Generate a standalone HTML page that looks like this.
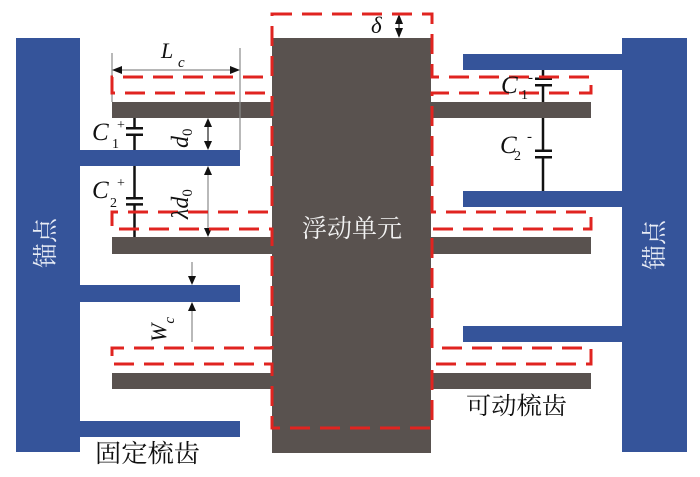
<!DOCTYPE html>
<html><head><meta charset="utf-8"><style>
html,body{margin:0;padding:0;background:#fff;}
svg{display:block;}
.m{font-family:"Liberation Serif",serif;font-style:italic;fill:#111;}
.s{font-family:"Liberation Serif",serif;fill:#111;}
.cj{font-family:"Liberation Serif","Noto Serif CJK SC","Noto Sans CJK SC",serif;}
</style></head><body>
<svg width="700" height="477" viewBox="0 0 700 477" xmlns="http://www.w3.org/2000/svg">
<rect width="700" height="477" fill="#fff"/>
<!-- anchors -->
<g fill="#35549a">
<rect x="16" y="38" width="64" height="414"/>
<rect x="80" y="150" width="160" height="16"/>
<rect x="80" y="285" width="160" height="17"/>
<rect x="80" y="421" width="160" height="16"/>
<rect x="622" y="38" width="65" height="414"/>
<rect x="463" y="54" width="160" height="16"/>
<rect x="463" y="191" width="160" height="16"/>
<rect x="463" y="326" width="160" height="16"/>
</g>
<!-- moving mass -->
<g fill="#59524f">
<rect x="272" y="38" width="159" height="415"/>
<rect x="112" y="102" width="161" height="16"/>
<rect x="112" y="237" width="161" height="17"/>
<rect x="112" y="373" width="161" height="16"/>
<rect x="430" y="102" width="161" height="16"/>
<rect x="430" y="237" width="161" height="17"/>
<rect x="430" y="373" width="161" height="16"/>
</g>
<!-- dimension lines -->
<g stroke="#8a8a8a" stroke-width="1.2" fill="none">
<line x1="112" y1="53" x2="112" y2="102"/>
<line x1="240" y1="48" x2="240" y2="150"/>
<line x1="118" y1="70" x2="234" y2="70"/>
<line x1="208" y1="170" x2="208" y2="233"/>
<line x1="192" y1="262" x2="192" y2="278"/>
<line x1="192" y1="309" x2="192" y2="342"/>
</g>
<g stroke="#222" stroke-width="1.2">
<line x1="208" y1="124" x2="208" y2="144"/>
<line x1="399" y1="20" x2="399" y2="32"/>
</g>
<g fill="#111">
<polygon points="112,70 122,66 122,74"/>
<polygon points="240,70 230,66 230,74"/>
<polygon points="208,118 204,127 212,127"/>
<polygon points="208,150 204,141 212,141"/>
<polygon points="208,166 204,175 212,175"/>
<polygon points="208,237 204,228 212,228"/>
<polygon points="192,285 188,276 196,276"/>
<polygon points="192,302 188,311 196,311"/>
<polygon points="399,14 395,24 403,24"/>
<polygon points="399,38 395,28 403,28"/>
</g>
<!-- capacitors -->
<g stroke="#111" stroke-width="2.5" fill="none">
<line x1="134.5" y1="118" x2="134.5" y2="128"/>
<line x1="134.5" y1="135" x2="134.5" y2="150"/>
<line x1="126" y1="128.2" x2="143" y2="128.2"/>
<line x1="126" y1="134.7" x2="143" y2="134.7"/>
<line x1="134.5" y1="166" x2="134.5" y2="198"/>
<line x1="134.5" y1="204" x2="134.5" y2="237"/>
<line x1="126" y1="198.2" x2="143" y2="198.2"/>
<line x1="126" y1="204.4" x2="143" y2="204.4"/>
<line x1="543" y1="70" x2="543" y2="79"/>
<line x1="543" y1="85" x2="543" y2="102"/>
<line x1="535" y1="78.7" x2="552" y2="78.7"/>
<line x1="535" y1="85.2" x2="552" y2="85.2"/>
<line x1="543" y1="118" x2="543" y2="151"/>
<line x1="543" y1="157" x2="543" y2="191"/>
<line x1="535" y1="150.7" x2="552" y2="150.7"/>
<line x1="535" y1="157.2" x2="552" y2="157.2"/>
</g>
<!-- dashed displaced outline -->
<path d="M272,14 H432 V77 H591 V93 H432 V212 H591 V229 H432 V348 H591 V364 H432 V428 H272 V364 H112 V348 H272 V229 H112 V212 H272 V93 H112 V77 H272 Z" fill="none" stroke="#e02420" stroke-width="3" stroke-dasharray="20 10"/>
<!-- labels -->
<text class="m" x="161" y="58" font-size="22">L</text>
<text class="m" x="178" y="67" font-size="15">c</text>
<text class="m" x="371" y="33" font-size="23">δ</text>
<text class="m" x="92" y="140" font-size="25">C</text>
<text class="s" x="112" y="148" font-size="14">1</text>
<text class="s" x="117" y="129" font-size="14">+</text>
<text class="m" x="92" y="198" font-size="25">C</text>
<text class="s" x="110" y="207" font-size="14">2</text>
<text class="s" x="117" y="187" font-size="14">+</text>
<text class="m" x="501" y="93" font-size="25">C</text>
<text class="s" x="521" y="99" font-size="14">1</text>
<text class="s" x="528" y="82" font-size="15">-</text>
<text class="m" x="500" y="153" font-size="25">C</text>
<text class="s" x="514" y="160" font-size="14">2</text>
<text class="s" x="527" y="141" font-size="15">-</text>
<g transform="translate(188,148) rotate(-90)"><text class="m" x="0" y="0" font-size="24">d<tspan font-style="normal" font-size="15" dy="4">0</tspan></text></g>
<g transform="translate(188,219) rotate(-90)"><text class="m" x="0" y="0" font-size="24">λd<tspan font-style="normal" font-size="15" dy="4">0</tspan></text></g>
<g transform="translate(166,342) rotate(-90)"><text class="m" x="0" y="0" font-size="22">W<tspan font-size="15" dy="8">c</tspan></text></g>
<text class="cj" x="302" y="237" font-size="25" fill="#f2f2f2" textLength="100" lengthAdjust="spacingAndGlyphs">浮动单元</text>
<g transform="translate(45,243) rotate(-90)"><text class="cj" x="0" y="9" font-size="25" fill="#e8ecf5" text-anchor="middle">锚点</text></g>
<g transform="translate(654,245) rotate(-90)"><text class="cj" x="0" y="9" font-size="25" fill="#e8ecf5" text-anchor="middle">锚点</text></g>
<text class="cj" x="95" y="462" font-size="25" fill="#111" textLength="105" lengthAdjust="spacingAndGlyphs">固定梳齿</text>
<text class="cj" x="466" y="414" font-size="24" fill="#111" textLength="101" lengthAdjust="spacingAndGlyphs">可动梳齿</text>
</svg>
</body></html>
